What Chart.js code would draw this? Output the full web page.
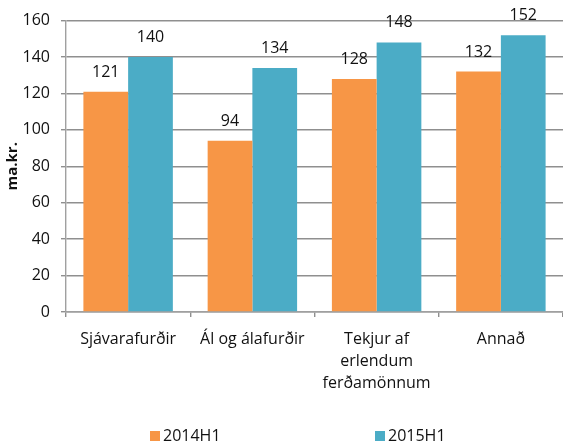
<!DOCTYPE html>
<html>
<head>
<meta charset="utf-8">
<script src="https://cdn.jsdelivr.net/npm/chart.js@4/dist/chart.umd.min.js"></script>
<style>
	html, body { margin: 0; padding: 0; background: #fff; }
	#wrap { width: 563px; height: 448px; }
</style>
</head>
<body>
<div id="wrap"><canvas id="chart" width="563" height="448"></canvas></div>
<script>
const categories = [
	"Sjávarafurðir",
	"Ál og álafurðir",
	["Tekjur af", "erlendum", "ferðamönnum"],
	"Annað"
];
const seriesNames = ["2014H1", "2015H1"];
const values2014 = [121, 94, 128, 132];
const values2015 = [140, 134, 148, 152];
const colors = ["#F79646", "#4BACC6"];

const font = "'Open Sans', 'Liberation Sans', sans-serif";
const gridColor = "#8f8f8f";

// value labels above each bar
const valueLabels = {
	id: "valueLabels",
	afterDatasetsDraw(chart) {
		const ctx = chart.ctx;
		ctx.save();
		ctx.font = "16px " + font;
		ctx.fillStyle = "#111";
		ctx.textAlign = "center";
		ctx.textBaseline = "alphabetic";
		chart.data.datasets.forEach((ds, i) => {
			chart.getDatasetMeta(i).data.forEach((bar, j) => {
				ctx.fillText(String(ds.data[j]), bar.x, bar.y - 15);
			});
		});
		ctx.restore();
	}
};

// wide-spaced legend at the bottom
const bottomLegend = {
	id: "bottomLegend",
	afterDraw(chart) {
		const ctx = chart.ctx;
		const starts = [150, 375];
		ctx.save();
		ctx.font = "16px " + font;
		ctx.textBaseline = "middle";
		ctx.textAlign = "left";
		chart.data.datasets.forEach((ds, i) => {
			ctx.fillStyle = ds.backgroundColor;
			ctx.fillRect(starts[i], 431, 10, 10);
			ctx.fillStyle = "#111";
			ctx.fillText(ds.label, starts[i] + 13, 436);
		});
		ctx.restore();
	}
};

new Chart(document.getElementById("chart"), {
	type: "bar",
	data: {
		labels: categories,
		datasets: [
			{ label: seriesNames[0], data: values2014, backgroundColor: colors[0] },
			{ label: seriesNames[1], data: values2015, backgroundColor: colors[1] }
		]
	},
	options: {
		responsive: false,
		animation: false,
		layout: { padding: { top: 16, right: 0, bottom: 46, left: 0 } },
		datasets: {
			bar: { categoryPercentage: 0.72, barPercentage: 1 }
		},
		plugins: {
			legend: { display: false },
			tooltip: { enabled: false }
		},
		scales: {
			x: {
				afterFit: (s) => { s.height = 90; },
				grid: {
					drawOnChartArea: false,
					drawTicks: true,
					tickLength: 5,
					color: gridColor,
					lineWidth: 1.4
				},
				border: { color: "#a0a0a0", width: 1.4 },
				ticks: {
					padding: 12,
					color: "#111",
					maxRotation: 0,
					autoSkip: false,
					font: { family: font, size: 16, lineHeight: 1.35 }
				}
			},
			y: {
				min: 0,
				max: 160,
				afterFit: (s) => { s.width = 66; },
				grid: { color: gridColor, tickLength: 5, lineWidth: 1.4 },
				border: { color: "#a0a0a0", width: 1.4 },
				ticks: {
					stepSize: 20,
					padding: 11,
					color: "#111",
					font: { family: font, size: 16 }
				},
				title: {
					display: true,
					text: "ma.kr.",
					color: "#111",
					padding: { top: 4, bottom: 0 },
					font: { family: font, size: 15, weight: "bold" }
				}
			}
		}
	},
	plugins: [valueLabels, bottomLegend]
});
</script>
</body>
</html>
